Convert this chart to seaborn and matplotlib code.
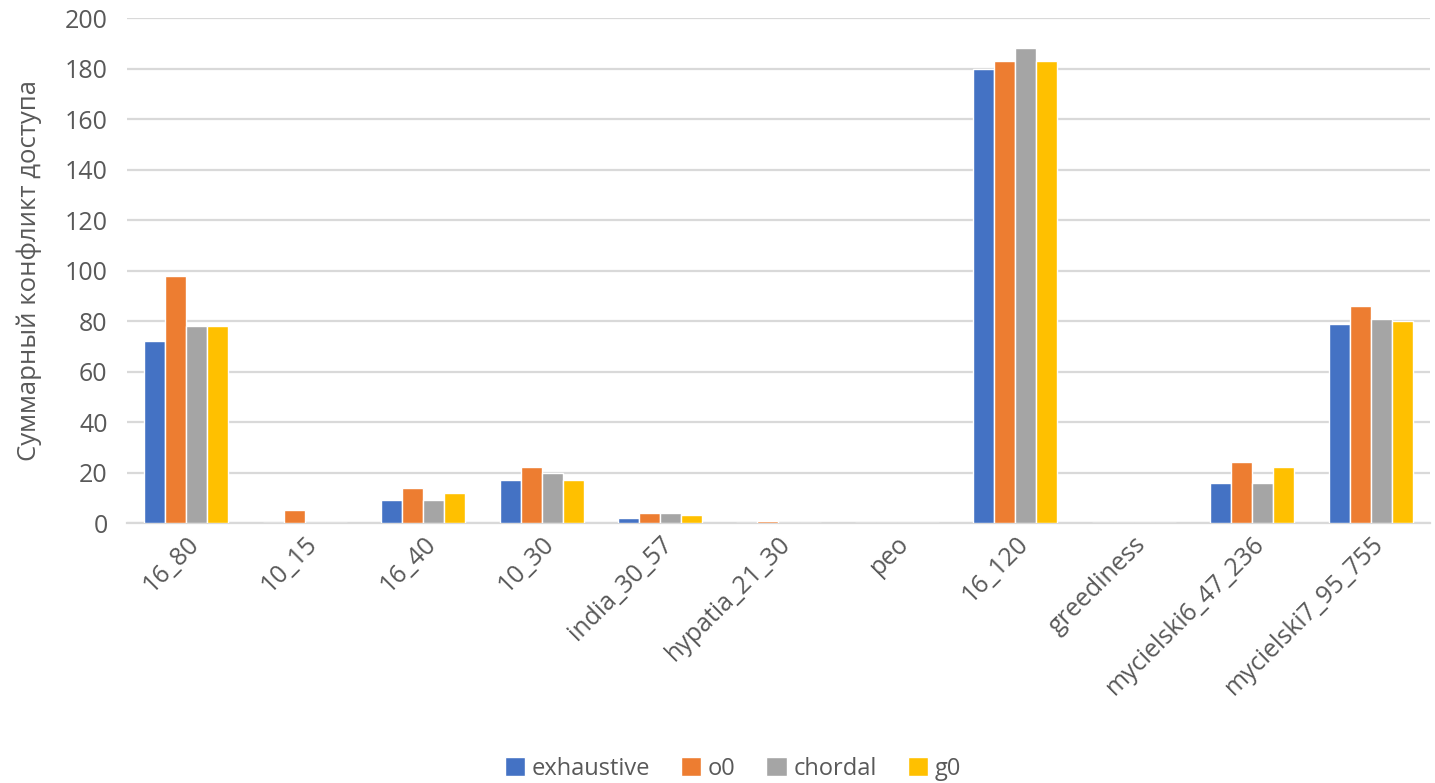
import matplotlib
matplotlib.use("Agg")
import matplotlib.pyplot as plt
import seaborn as sns
import pandas as pd

categories = ["16_80", "10_15", "16_40", "10_30", "india_30_57", "hypatia_21_30",
              "peo", "16_120", "greediness", "mycielski6_47_236", "mycielski7_95_755"]
exhaustive = [72, 0, 9, 17, 2, 0, 0, 180, 0, 16, 79]
o0 = [98, 5, 14, 22, 4, 1, 0, 183, 0, 24, 86]
chordal = [78, 0, 9, 20, 4, 0, 0, 188, 0, 16, 81]
g0 = [78, 0, 12, 17, 3, 0, 0, 183, 0, 22, 80]
series_names = ["exhaustive", "o0", "chordal", "g0"]
colors = ["#4472C4", "#ED7D31", "#A5A5A5", "#FFC000"]
y_ticks = [0, 20, 40, 60, 80, 100, 120, 140, 160, 180, 200]
y_label = "Суммарный конфликт доступа"

rows = []
for name, vals in zip(series_names, [exhaustive, o0, chordal, g0]):
    for c, v in zip(categories, vals):
        rows.append({"cat": c, "series": name, "value": v})
df = pd.DataFrame(rows)

sns.set_theme(style="white")
plt.rcParams["font.family"] = ["Open Sans", "DejaVu Sans"]

fig = plt.figure(figsize=(14.35, 7.83), dpi=100)
ax = fig.add_axes([0.0885, 0.332, 0.908, 0.645])

sns.barplot(data=df, x="cat", y="value", hue="series", palette=colors,
            saturation=1, width=0.71, edgecolor="white", linewidth=1.0, ax=ax,
            order=categories, hue_order=series_names, legend=True, zorder=3)

ax.set_ylim(0, 200)
ax.set_yticks(y_ticks)
ax.yaxis.grid(True, color="#D9D9D9", linewidth=1.6, zorder=0)
ax.set_axisbelow(True)
for s in ["top", "right", "left"]:
    ax.spines[s].set_visible(False)
ax.spines["bottom"].set_color("#D9D9D9")
ax.spines["bottom"].set_linewidth(1.6)

ax.tick_params(axis="both", colors="#595959", labelsize=18, length=0)
ax.tick_params(axis="y", pad=14)
ax.tick_params(axis="x", pad=6)
ax.set_xlabel("")
ax.set_ylabel(y_label, fontsize=18.5, color="#595959", labelpad=16)
plt.setp(ax.get_xticklabels(), rotation=45, ha="right", rotation_mode="anchor")

handles, labels = ax.get_legend_handles_labels()
ax.legend(handles, labels, loc="center", bbox_to_anchor=(0.465, -0.487),
          ncol=4, frameon=False, fontsize=17, labelcolor="#595959",
          handlelength=0.85, handleheight=0.85, handletextpad=0.3, columnspacing=1.3)

fig.savefig("out.png", dpi=100, facecolor="white")
